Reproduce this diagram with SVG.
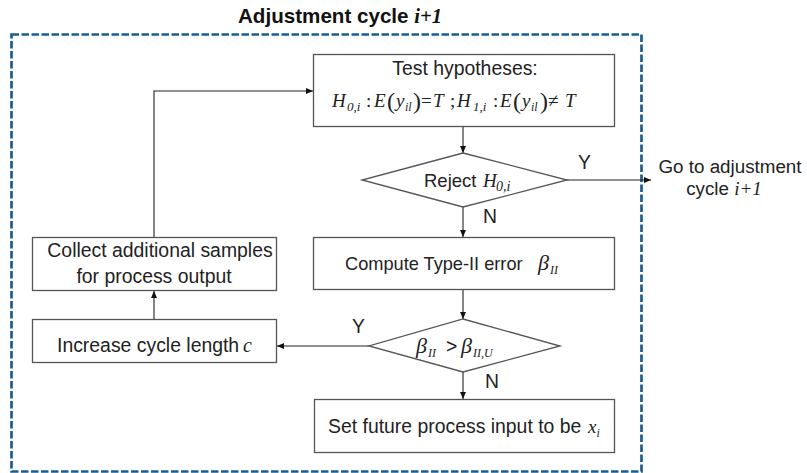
<svg xmlns="http://www.w3.org/2000/svg" width="807" height="473" viewBox="0 0 807 473">
<defs>
<marker id="arr" markerUnits="userSpaceOnUse" markerWidth="8" markerHeight="8" refX="7" refY="4" orient="auto">
<path d="M0,1 L7,4 L0,7 Z" fill="#111"/>
</marker>
<style>
.box{fill:#fff;stroke:#555;stroke-width:1.3}
.t{font-family:"Liberation Sans",Arial,sans-serif;font-size:19.4px;fill:#222}
.m{font-family:"Liberation Serif","Times New Roman",serif;font-style:italic;fill:#222}
.c{fill:none;stroke:#222;stroke-width:1.1;marker-end:url(#arr)}
</style>
</defs>
<rect width="807" height="473" fill="#fff"/>
<g id="frame">
<rect x="11.5" y="34.5" width="630" height="437" fill="none" stroke="#1b5e8e" stroke-width="2.7" stroke-dasharray="7.5 2.5"/>
<text x="238" y="23" font-family="'Liberation Sans',Arial,sans-serif" font-weight="bold" font-size="20.6" fill="#111">Adjustment cycle <tspan font-family="'Liberation Serif','Times New Roman',serif" font-style="italic">i+1</tspan></text>
</g>
<g id="connectors">
<path class="c" d="M463,127 V153"/>
<path class="c" d="M567,180 H651"/>
<path class="c" d="M463,207 V237"/>
<path class="c" d="M463,290 V319"/>
<path class="c" d="M369,346 H277"/>
<path class="c" d="M463,372 V399"/>
<path class="c" d="M154,319 V291"/>
<path class="c" d="M154,237 V91 H313"/>
<text class="t" x="578" y="169">Y</text>
<text class="t" x="483" y="223">N</text>
<text class="t" x="352" y="333">Y</text>
<text class="t" x="485" y="388">N</text>
</g>
<g id="test">
<rect class="box" x="313.5" y="54.5" width="301" height="72"/>
<text class="t" x="465" y="75" text-anchor="middle">Test hypotheses:</text>
<text class="m" font-size="19" y="107"><tspan x="332">H</tspan><tspan x="347" y="111" font-size="13">0,i</tspan><tspan x="366" y="107" font-style="normal">:</tspan><tspan x="374">E</tspan><tspan x="387" font-style="normal" font-size="24" y="109">(</tspan><tspan x="396" y="107">y</tspan><tspan x="405" y="111" font-size="12">il</tspan><tspan x="413" font-style="normal" font-size="24" y="109">)</tspan><tspan x="421" y="107" font-style="normal">=</tspan><tspan x="433">T</tspan><tspan x="450" font-style="normal">;</tspan><tspan x="457">H</tspan><tspan x="473" y="111" font-size="13">1,i</tspan><tspan x="493" y="107" font-style="normal">:</tspan><tspan x="500">E</tspan><tspan x="513" font-style="normal" font-size="24" y="109">(</tspan><tspan x="522" y="107">y</tspan><tspan x="531" y="111" font-size="12">il</tspan><tspan x="540" font-style="normal" font-size="24" y="109">)</tspan><tspan x="548" y="107" font-style="normal">≠</tspan><tspan x="565">T</tspan></text>
</g>
<g id="reject">
<polygon class="box" points="463,153 567,180 463,207 362,180"/>
<text class="t" x="424" y="187" style="font-size:18.5px">Reject <tspan class="m" font-size="19" x="483">H</tspan><tspan class="m" font-size="14" x="496" y="191">0,i</tspan></text>
</g>
<g id="goto">
<text class="t" x="730" y="173" text-anchor="middle" style="font-size:18.8px">Go to adjustment</text>
<text class="t" x="724" y="195" text-anchor="middle" style="font-size:18.8px">cycle <tspan class="m" font-size="19">i+1</tspan></text>
</g>
<g id="compute">
<rect class="box" x="313.5" y="237.5" width="301" height="52"/>
<text class="t" x="345" y="270" style="font-size:18.2px">Compute Type-II error</text>
<text class="m" x="538" y="270" font-size="22">β<tspan font-size="12" y="274" dx="1">II</tspan></text>
</g>
<g id="betatest">
<polygon class="box" points="463,319 560,346 463,372 369,346"/>
<text class="m" x="416" y="353" font-size="22">β<tspan font-size="12" y="357" dx="1">II</tspan><tspan class="t" font-style="normal" x="446" y="353">&gt;</tspan><tspan x="461" y="353">β</tspan><tspan font-size="12" y="357" dx="1">II,U</tspan></text>
</g>
<g id="setinput">
<rect class="box" x="314.5" y="399.5" width="300" height="53"/>
<text class="t" x="328" y="433">Set future process input to be <tspan class="m" font-size="19" x="588">x</tspan><tspan class="m" font-size="12" y="437">i</tspan></text>
</g>
<g id="increase">
<rect class="box" x="32.5" y="319.5" width="244" height="43"/>
<text class="t" x="57" y="352">Increase cycle length <tspan class="m" font-size="20" x="243">c</tspan></text>
</g>
<g id="collect">
<rect class="box" x="32.5" y="237.5" width="244" height="53"/>
<text class="t" x="160" y="257" text-anchor="middle">Collect additional  samples</text>
<text class="t" x="154" y="283" text-anchor="middle">for process output</text>
</g>
</svg>
